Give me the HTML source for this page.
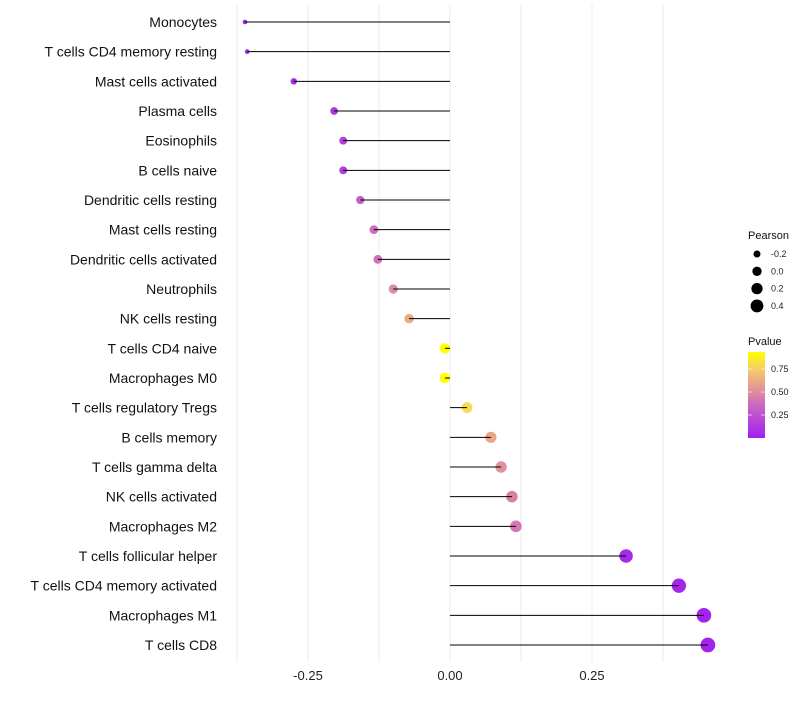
<!DOCTYPE html>
<html><head><meta charset="utf-8"><style>
body{margin:0;background:#fff;font-family:"Liberation Sans",sans-serif}
</style></head><body>
<svg id="chart" width="800" height="700" xmlns="http://www.w3.org/2000/svg"></svg>
<script>
const categories=["Monocytes","T cells CD4 memory resting","Mast cells activated","Plasma cells","Eosinophils","B cells naive","Dendritic cells resting","Mast cells resting","Dendritic cells activated","Neutrophils","NK cells resting","T cells CD4 naive","Macrophages M0","T cells regulatory  Tregs ","B cells memory","T cells gamma delta","NK cells activated","Macrophages M2","T cells follicular helper","T cells CD4 memory activated","Macrophages M1","T cells CD8"];
const pearson=[-0.361,-0.357,-0.275,-0.204,-0.188,-0.188,-0.158,-0.134,-0.127,-0.100,-0.072,-0.009,-0.009,0.030,0.072,0.090,0.109,0.116,0.310,0.403,0.447,0.454];
const pvalues=[0.02,0.03,0.05,0.12,0.15,0.15,0.33,0.37,0.4,0.5,0.62,0.93,0.93,0.8,0.6,0.52,0.45,0.42,0.05,0.03,0.02,0.02];
const xTicks=[-0.25,0,0.25];
const xTickLabels=["-0.25","0.00","0.25"];
const gridVals=[-0.375,-0.25,-0.125,0,0.125,0.25,0.375];
const sizeLegend=[-0.2,0.0,0.2,0.4];
const sizeLegendLabels=["-0.2","0.0","0.2","0.4"];
const colorTicks=[0.25,0.5,0.75];
const colorTickLabels=["0.25","0.50","0.75"];

const NS="http://www.w3.org/2000/svg";
const svg=document.getElementById('chart');
function mk(t,a,p){const e=document.createElementNS(NS,t);for(const k in a)e.setAttribute(k,a[k]);(p||svg).appendChild(e);return e;}
const xS=v=>450+v*568;
const yS=i=>22+i*(623/21);
const rS=v=>Math.sqrt(Math.max(4,27+60*v));
const pMax=0.935;
const stops=[[0,[160,32,240]],[0.35,[200,96,200]],[0.62,[232,160,140]],[0.82,[245,210,100]],[1,[255,255,0]]];
function col(p){
  let t=Math.max(0,Math.min(1,p/pMax));
  for(let k=0;k<stops.length-1;k++){
    const [t0,a]=stops[k],[t1,b]=stops[k+1];
    if(t<=t1){const u=(t-t0)/(t1-t0);return `rgb(${a.map((c,i)=>Math.round(c+(b[i]-c)*u)).join(',')})`;}
  }
  return 'rgb(255,255,0)';
}
gridVals.forEach(v=>{
  const g=mk('line',{x1:xS(v),x2:xS(v),y1:5,y2:662,stroke:'#ebebeb','stroke-width':1});
  
  
});
xTicks.forEach((v,i)=>{
  const t=mk('text',{x:xS(v),y:680,'text-anchor':'middle','font-size':13,fill:'#222'});
  t.textContent=xTickLabels[i];
  
  
});
categories.forEach((c,i)=>{
  const y=yS(i);
  const t=mk('text',{x:217,y:y+5,'text-anchor':'end','font-size':14,fill:'#111','xml:space':'preserve'});
  t.textContent=c;
  
  
  const d=mk('circle',{cx:xS(pearson[i]),cy:y,r:rS(pearson[i]),fill:col(pvalues[i])});
  
  
  const l=mk('line',{x1:xS(0),x2:xS(pearson[i]),y1:y,y2:y,stroke:'#000','stroke-width':1});
  
  
});
const st=mk('text',{x:748,y:239,'font-size':11,fill:'#111'});st.textContent='Pearson';


sizeLegend.forEach((v,i)=>{
  const y=254+i*17.3;
  const c=mk('circle',{cx:757,cy:y,r:rS(v)*0.9,fill:'#000'});
  
  
  const t=mk('text',{x:771,y:y+3,'font-size':9,fill:'#222'});t.textContent=sizeLegendLabels[i];
  
  
});
const ct=mk('text',{x:748,y:345,'font-size':11,fill:'#111'});ct.textContent='Pvalue';


const defs=mk('defs',{});
const lg=mk('linearGradient',{id:'pg',x1:0,y1:1,x2:0,y2:0},defs);
[0,0.1,0.2,0.3,0.4,0.5,0.6,0.7,0.8,0.9,1].forEach(o=>mk('stop',{offset:o,'stop-color':col(o*pMax)},lg));
const bar=mk('rect',{x:748,y:352,width:17,height:86,fill:'url(#pg)'});


colorTicks.forEach((v,i)=>{
  const y=438-v/pMax*86;
  mk('line',{x1:748,x2:752,y1:y,y2:y,stroke:'#fff','stroke-width':0.6});
  mk('line',{x1:761,x2:765,y1:y,y2:y,stroke:'#fff','stroke-width':0.6});
  const t=mk('text',{x:771,y:y+3,'font-size':9,fill:'#222'});t.textContent=colorTickLabels[i];
  
  
});
</script>
</body></html>
